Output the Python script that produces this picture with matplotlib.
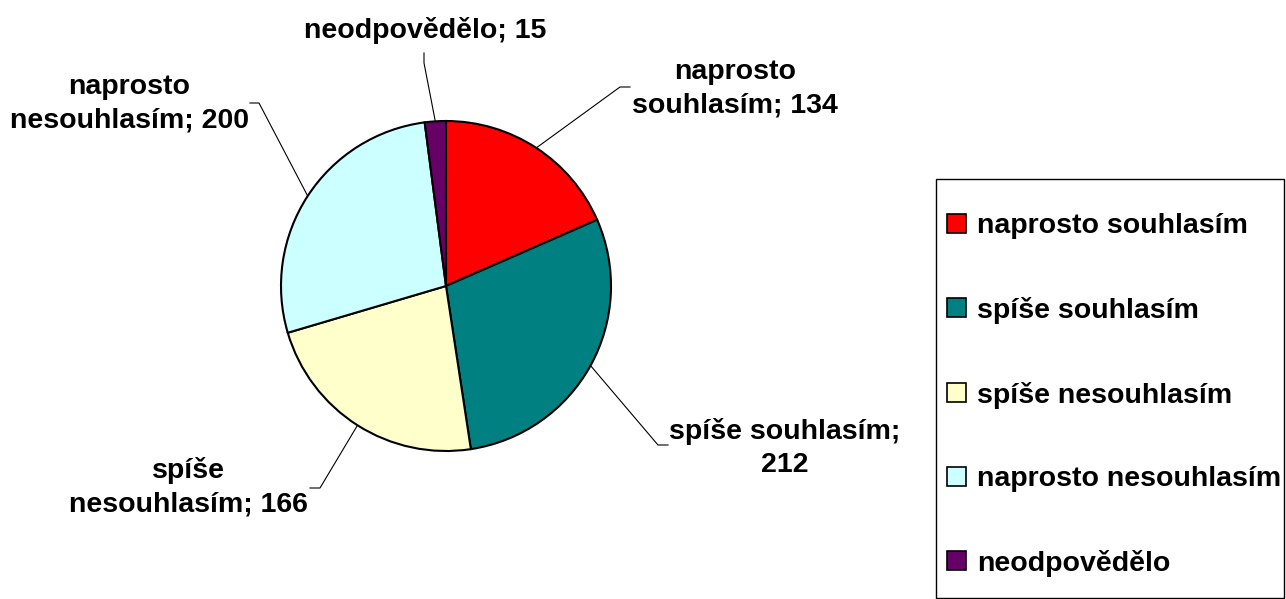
import matplotlib
matplotlib.use("Agg")
import matplotlib.pyplot as plt
from matplotlib.patches import Rectangle
import numpy as np

categories = ["naprosto souhlasím", "spíše souhlasím", "spíše nesouhlasím",
              "naprosto nesouhlasím", "neodpovědělo"]
values = [134, 212, 166, 200, 15]
label_texts = ["naprosto\nsouhlasím; 134", "spíše souhlasím;\n212", "spíše\nnesouhlasím; 166",
               "naprosto\nnesouhlasím; 200", "neodpovědělo; 15"]
colors = ["#FF0000", "#008080", "#FFFFCC", "#CCFFFF", "#660066"]

W, H = 1286, 599
plt.rcParams['font.family'] = ['Liberation Sans', 'DejaVu Sans']
FS = 20.5

fig = plt.figure(figsize=(W / 100, H / 100), dpi=100)
cx, cy, R = 446, 286, 165
ax = fig.add_axes([(cx - R) / W, (H - cy - R) / H, 2 * R / W, 2 * R / H])
wedges, _ = ax.pie(values, colors=colors, startangle=90, counterclock=False, radius=1,
                   wedgeprops=dict(edgecolor='black', linewidth=1.5))
ax.set_xlim(-1, 1)
ax.set_ylim(-1, 1)
ax.set_aspect('equal')
ax.axis('off')

def px(x, y):
    return ((x - cx) / R, (cy - y) / R)

# leader bend/end points and text centres (pixel positions)
bends = [((620, 87), (630, 87)), ((658, 445), (668, 445)), ((320, 488), (310, 488)),
         ((259, 103), (250, 103)), ((424, 63), (424, 53))]
text_pos = [(735, 89), (785, 448), (188, 487), (129, 104), (425, 30)]

for w, (b1, b2), tp, txt in zip(wedges, bends, text_pos, label_texts):
    ang = np.deg2rad((w.theta1 + w.theta2) / 2)
    sx, sy = np.cos(ang), np.sin(ang)
    b1d, b2d = px(*b1), px(*b2)
    ax.plot([sx, b1d[0], b2d[0]], [sy, b1d[1], b2d[1]], color='black', lw=0.8,
            clip_on=False, zorder=0)
    tx, ty = px(*tp)
    ax.text(tx, ty, txt, ha='center', va='center', fontsize=FS, fontweight='bold',
            linespacing=1.38, clip_on=False)

# legend frame
fig.patches.append(Rectangle((936 / W, 1 - 598 / H), (1284 - 936) / W, (598 - 179) / H,
                             transform=fig.transFigure, fill=False, edgecolor='black',
                             linewidth=1.0))
leg = fig.legend(wedges, categories, loc='center left',
                 bbox_to_anchor=(947 / W, 1 - 395 / H), frameon=False,
                 prop=dict(size=FS, weight='bold'), borderpad=0, borderaxespad=0,
                 handlelength=0.65, handleheight=0.65, handletextpad=0.4,
                 labelspacing=2.02)
for h in leg.legend_handles:
    h.set_edgecolor('black')
    h.set_linewidth(1.2)

fig.savefig("out.png", dpi=100)
